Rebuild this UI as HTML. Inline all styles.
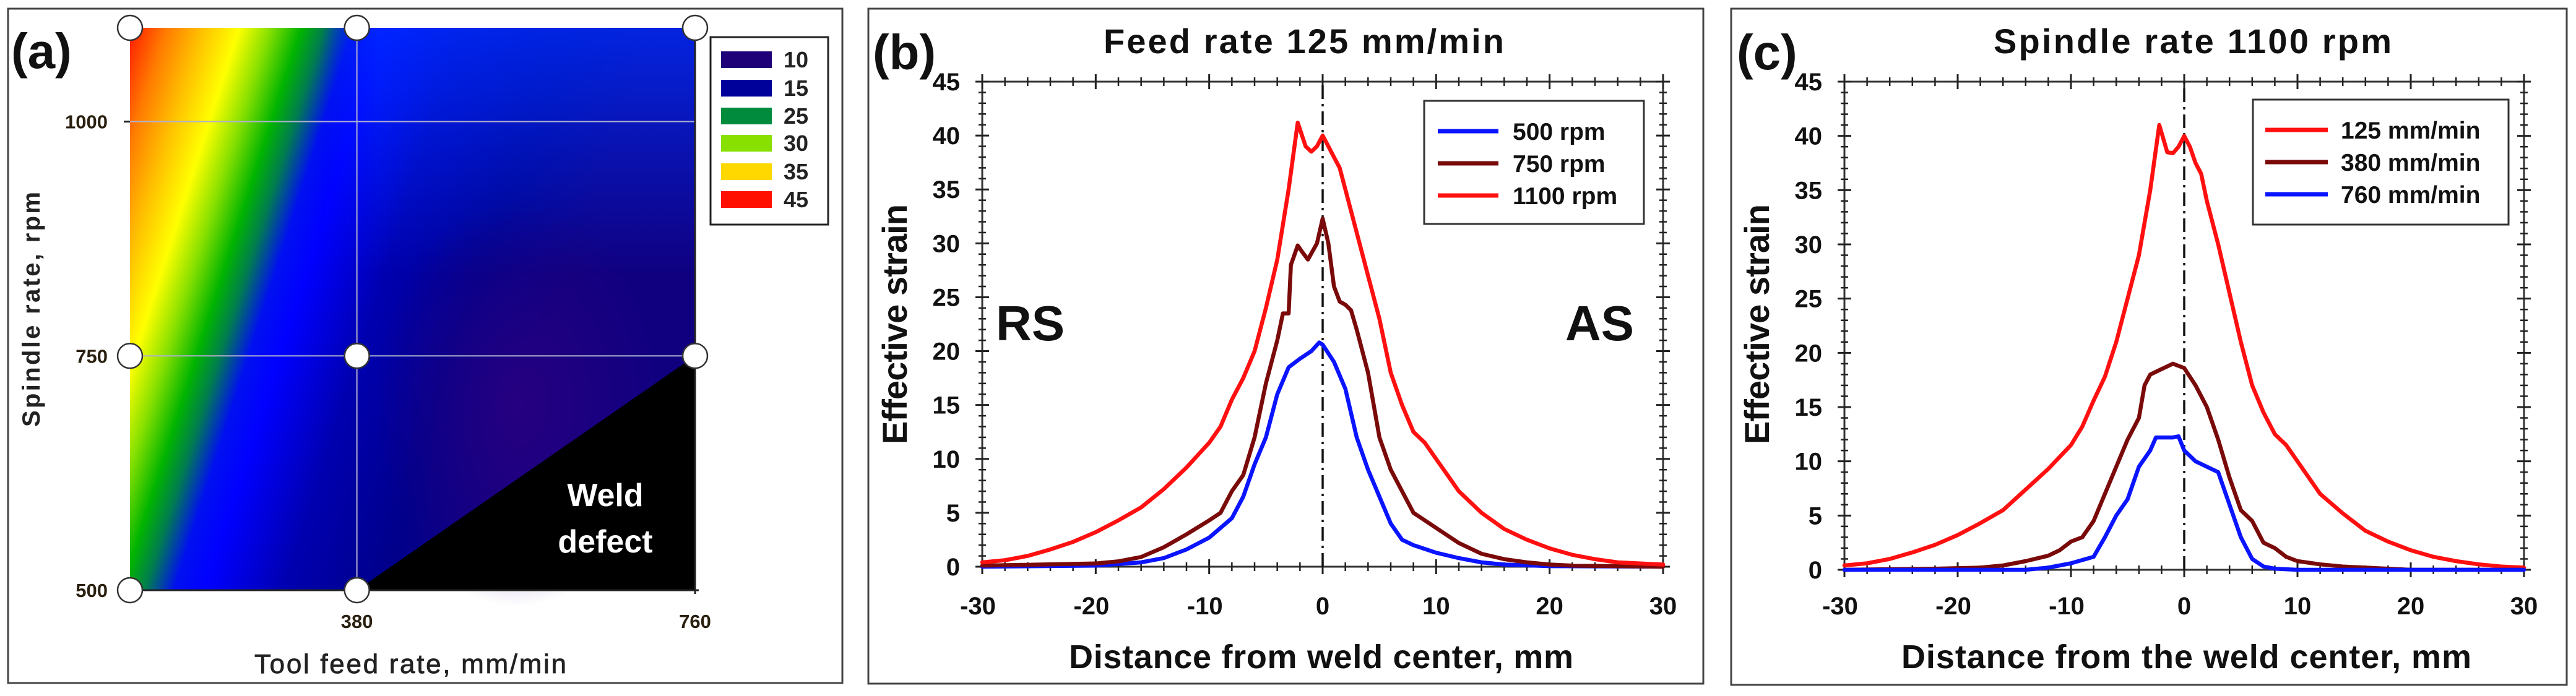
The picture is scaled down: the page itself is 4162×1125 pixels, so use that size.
<!DOCTYPE html>
<html><head><meta charset="utf-8"><style>
html,body{margin:0;padding:0;background:#fff;}
svg{display:block;font-family:"Liberation Sans",Arial,sans-serif;}
</style></head><body>
<svg id="fig" width="4162" height="1125" viewBox="0 0 4162 1125" xmlns="http://www.w3.org/2000/svg">
<defs>
<linearGradient id="cmap" gradientUnits="userSpaceOnUse" x1="210" y1="45" x2="972" y2="288">
<stop offset="0" stop-color="#ff1a00"/><stop offset="0.07" stop-color="#ff7a00"/><stop offset="0.14" stop-color="#ffc000"/>
<stop offset="0.21" stop-color="#ffff00"/><stop offset="0.27" stop-color="#88e000"/><stop offset="0.33" stop-color="#00b400"/>
<stop offset="0.375" stop-color="#007c50"/><stop offset="0.43" stop-color="#0010f0"/><stop offset="0.49" stop-color="#0000ff"/>
<stop offset="0.64" stop-color="#0000b0"/><stop offset="0.82" stop-color="#00008c"/><stop offset="1" stop-color="#100080"/>
</linearGradient>
<linearGradient id="topblue" x1="0" y1="0" x2="0" y2="1">
<stop offset="0" stop-color="#0030ff" stop-opacity="0.75"/><stop offset="1" stop-color="#0030ff" stop-opacity="0"/>
</linearGradient>
<linearGradient id="topfade" x1="0" y1="0" x2="1" y2="0">
<stop offset="0" stop-color="#fff" stop-opacity="0"/><stop offset="0.15" stop-color="#fff" stop-opacity="1"/><stop offset="1" stop-color="#fff" stop-opacity="1"/>
</linearGradient>
<mask id="tm"><rect x="520" y="45" width="603" height="400" fill="url(#topfade)"/></mask>
<radialGradient id="purp" cx="0.5" cy="0.5" r="0.5">
<stop offset="0" stop-color="#2a0080" stop-opacity="0.85"/><stop offset="1" stop-color="#2a0080" stop-opacity="0"/>
</radialGradient>
</defs>
<g id="pa"></g>
<g id="pb"></g>
<g id="pc"></g>
</svg>
<script>
// ---- data ----
const mapXTicks = [380, 760];
const mapYTicks = [500, 750, 1000];
const mapLegendLabels = ["10","15","25","30","35","45"];
const mapLegendColors = ["#1e0078","#00009a","#008c3c","#88e000","#ffd800","#ff1000"];
const designFeeds = [125, 380, 760, 125, 380, 760, 125, 380];
const designSpindles = [1100, 1100, 1100, 750, 750, 750, 500, 500];

const xTickLabels = [-30,-20,-10,0,10,20,30];
const yTickLabels = [0,5,10,15,20,25,30,35,40,45];

const b_x1100 = [-30,-28,-26,-24,-22,-20,-18,-16,-14,-12,-10,-9,-8,-7,-6,-5,-4,-3,-2.2,-1.5,-1,-0.5,0,0.5,1,1.5,2,3,4,5,6,7,8,9,10,11,12,14,16,18,20,22,24,26,28,30];
const b_y1100 = [0.4,0.6,1.0,1.6,2.3,3.2,4.3,5.5,7.2,9.2,11.5,13,15.5,17.5,20,24,28.5,35,41.2,39,38.5,39,40,39,38,37,35,31,27,23,18,15,12.5,11.5,10,8.5,7,5,3.5,2.5,1.7,1.1,0.7,0.4,0.3,0.2];
const b_x750 = [-30,-20,-18,-16,-14,-12,-10,-9,-8,-7,-6,-5,-4,-3.5,-3,-2.8,-2.2,-1.8,-1.3,-0.5,0,0.5,1,1.5,2,2.5,3,4,5,6,7,8,9,10,12,14,16,18,20,22,30];
const b_y750 = [0.1,0.3,0.5,0.9,1.8,3,4.3,5,7,8.5,12,17,21,23.5,23.5,28,29.8,29.2,28.5,30,32.3,30,26,24.6,24.3,23.8,22,18,12,9,7,5,4.3,3.6,2.2,1.2,0.7,0.4,0.2,0.1,0];
const b_x500 = [-30,-20,-16,-14,-12,-10,-8,-7,-6,-5,-4,-3,-2,-1,-0.3,0,1,2,3,4,5,6,7,8,10,12,14,16,20,30];
const b_y500 = [0,0.1,0.4,0.8,1.6,2.7,4.5,6.5,9.5,12,16,18.5,19.3,20,20.8,20.6,19,16.5,12,9,6.5,4,2.5,2,1.3,0.8,0.4,0.2,0.05,0];

const c_x125 = b_x1100.slice();
const c_y125 = [0.4,0.6,1.0,1.6,2.3,3.2,4.3,5.5,7.4,9.3,11.5,13.2,15.6,17.8,21,25,29,35,41,38.5,38.4,39,40,39,37.5,36.5,34,30,25.5,21,17,14.5,12.5,11.5,10,8.5,7,5.2,3.6,2.6,1.8,1.2,0.8,0.5,0.3,0.2];
const c_x380 = [-30,-22,-18,-16,-14,-12,-11,-10,-9,-8,-7,-6,-5,-4,-3.5,-3,-2,-1,0,1,2,3,4,5,6,7,8,9,10,12,14,16,18,20,30];
const c_y380 = [0,0.1,0.2,0.4,0.8,1.3,1.8,2.6,3,4.5,7,9.5,12,14,17,18,18.5,19,18.6,17,15,12,8.5,5.5,4.5,2.5,2,1.2,0.8,0.5,0.3,0.2,0.1,0,0];
const c_x760 = [-30,-14,-12,-10,-8,-7,-6,-5,-4,-3,-2.5,-1,-0.5,0,1,2,3,4,5,6,7,8,10,30];
const c_y760 = [0,0,0.2,0.6,1.2,3,5,6.5,9.5,11,12.2,12.2,12.3,11,10,9.5,9,6,3,1,0.3,0.1,0,0];

// ---- helpers ----
const NS = "http://www.w3.org/2000/svg";
function mk(tag, parent, attrs, text){
  const e = document.createElementNS(NS, tag);
  for (const k in attrs) e.setAttribute(k, attrs[k]);
  if (text !== undefined) e.textContent = text;
  parent.appendChild(e);
  return e;
}

// ---- panel a ----
(function(){
  const g = document.getElementById('pa');
  const X0=210, X1=1123, Y0=954, Y1=45;
  const fx = v => X0 + (v-125)/(760-125)*(X1-X0);
  const fy = v => Y0 - (v-500)/(1100-500)*(Y0-Y1);
  let e;
  e = mk('rect', g, {x:13,y:14,width:1348,height:1090,fill:'none',stroke:'#444','stroke-width':3});
   
  e = mk('rect', g, {x:X0,y:Y1,width:X1-X0,height:Y0-Y1,fill:'url(#cmap)'});
   
  e = mk('rect', g, {x:520,y:45,width:603,height:400,fill:'url(#topblue)',mask:'url(#tm)'});
   
  e = mk('ellipse', g, {cx:fx(560),cy:fy(700),rx:230,ry:330,fill:'url(#purp)'});
   
  e = mk('polygon', g, {points:`${fx(380)},${fy(500)} ${fx(760)},${fy(750)} ${fx(760)},${fy(500)}`,fill:'#000'});
   
  mapXTicks.slice(0,1).forEach(v=>{
    const l = mk('line', g, {x1:fx(v),x2:fx(v),y1:Y1,y2:Y0,stroke:'#b0b0d0','stroke-width':2});
     
  });
  mapYTicks.slice(1).forEach(v=>{
    const l = mk('line', g, {x1:X0,x2:X1,y1:fy(v),y2:fy(v),stroke:'#b0b0d0','stroke-width':2});
     
  });
  e = mk('line', g, {x1:X1,x2:X1,y1:Y1,y2:Y0+6,stroke:'#222','stroke-width':3});
   
  e = mk('line', g, {x1:X0,x2:X1+6,y1:Y0,y2:Y0,stroke:'#222','stroke-width':3});
   
  mapYTicks.forEach(v=>{
    const t = mk('line', g, {x1:X0-10,x2:X0,y1:fy(v),y2:fy(v),stroke:'#222','stroke-width':3});
     
    const l = mk('text', g, {x:174,y:fy(v)+11,'text-anchor':'end','font-size':31,'font-weight':'bold',fill:'#2a2010'}, String(v));
     
  });
  mapXTicks.forEach(v=>{
    const l = mk('text', g, {x:fx(v),y:1015,'text-anchor':'middle','font-size':31,'font-weight':'bold',fill:'#2a2010'}, String(v));
     
  });
  designFeeds.forEach((f,i)=>{
    const c = mk('circle', g, {cx:fx(f),cy:fy(designSpindles[i]),r:20,fill:'#fff',stroke:'#333','stroke-width':2.5});
     
  });
  e = mk('text', g, {x:978,y:818,'text-anchor':'middle','font-size':52,'font-weight':'bold',fill:'#fff'}, 'Weld');
   
  e = mk('text', g, {x:978,y:893,'text-anchor':'middle','font-size':52,'font-weight':'bold',fill:'#fff'}, 'defect');
   
  e = mk('rect', g, {x:1148,y:60,width:190,height:303,fill:'#fff',stroke:'#222','stroke-width':3});
   
  const rowsY = [96,142,187,231,277,322];
  mapLegendLabels.forEach((lab,i)=>{
    const s = mk('rect', g, {x:1165,y:rowsY[i]-13,width:82,height:27,fill:mapLegendColors[i]});
     
    const t = mk('text', g, {x:1266,y:rowsY[i]+13,'font-size':36,'font-weight':'bold',fill:'#222'}, lab);
     
  });
  e = mk('text', g, {x:18,y:110,'font-size':80,'font-weight':'bold',fill:'#111'}, '(a)');
   
  e = mk('text', g, {x:0,y:0,'text-anchor':'middle','font-size':40,'font-weight':'bold',fill:'#222',textLength:380,transform:'translate(64,500) rotate(-90)'}, 'Spindle rate, rpm');
   
  e = mk('text', g, {x:663,y:1088,'text-anchor':'middle','font-size':44,fill:'#222',textLength:504,'stroke':'#222','stroke-width':0.8}, 'Tool feed rate, mm/min');
   
})();

// ---- line panels ----
function linePanel(id, cfg){
  const g = document.getElementById(id);
  const {X0,X1,Y0,Y1} = cfg;
  const fx = v => X0 + (v+30)/60*(X1-X0);
  const fy = v => Y0 - v/45*(Y0-Y1);
  let e;
  e = mk('rect', g, cfg.frame);
   
  e = mk('rect', g, {x:X0,y:Y1,width:X1-X0,height:Y0-Y1,fill:'none',stroke:'#333','stroke-width':3});
   
  for (let v=-30; v<=30; v+=2){
    const major = v%10===0, L = major?12:7;
    [Y0,Y1].forEach(yy=>{
      const t = mk('line', g, {x1:fx(v),x2:fx(v),y1:yy-L,y2:yy+L,stroke:'#222','stroke-width':major?3:2.5});
       
    });
  }
  for (let v=0; v<=45; v+=1){
    const major = v%5===0, L = major?11:6;
    [X0,X1].forEach(xx=>{
      const t = mk('line', g, {x1:xx-L,x2:xx+L,y1:fy(v),y2:fy(v),stroke:'#222','stroke-width':major?3:2.5});
       
    });
  }
  xTickLabels.forEach(v=>{
    const t = mk('text', g, {x:fx(v)-(v<0?7:0),y:993,'text-anchor':'middle','font-size':40,'font-weight':'bold',fill:'#111'}, String(v));
     
  });
  yTickLabels.forEach(v=>{
    const t = mk('text', g, {x:cfg.ylabX,y:fy(v)+14,'text-anchor':'end','font-size':40,'font-weight':'bold',fill:'#111'}, String(v));
     
  });
  e = mk('line', g, {x1:fx(0),x2:fx(0),y1:Y0,y2:Y1,stroke:'#111','stroke-width':3.5,'stroke-dasharray':'22 8 4 8'});
   
  cfg.series.forEach(s=>{
    const pts = s.xs.map((x,i)=>fx(x).toFixed(1)+','+fy(s.ys[i]).toFixed(1)).join(' ');
    const p = mk('polyline', g, {points:pts,fill:'none',stroke:s.color,'stroke-width':6.5,'stroke-linejoin':'round','stroke-linecap':'round'});
    
    
  });
  const L = cfg.legend;
  e = mk('rect', g, {x:L.x,y:L.y,width:L.w,height:L.h,fill:'#fff',stroke:'#333','stroke-width':3});
   
  const ry=[L.y+49,L.y+101,L.y+153];
  cfg.series.forEach((s,i)=>{
    const ser = cfg.series[cfg.legendOrder[i]];
    const ln = mk('line', g, {x1:L.lx1,x2:L.lx2,y1:ry[i],y2:ry[i],stroke:ser.color,'stroke-width':7});
     
    const t = mk('text', g, {x:L.tx,y:ry[i]+14,'font-size':39,'font-weight':'bold',fill:'#111'}, ser.name);
     
  });
  e = mk('text', g, {x:cfg.tag[0],y:112,'font-size':80,'font-weight':'bold',fill:'#111'}, cfg.tag[1]);
   
  e = mk('text', g, {x:cfg.title[0],y:86,'font-size':56,'font-weight':'bold',fill:'#111',textLength:cfg.title[1]}, cfg.title[2]);
   
  e = mk('text', g, {x:cfg.xt[0],y:1080,'font-size':54,'font-weight':'bold',fill:'#111',textLength:cfg.xt[1]}, cfg.xt[2]);
   
  e = mk('text', g, {x:0,y:0,'text-anchor':'middle','font-size':56,'font-weight':'bold',fill:'#111',textLength:388,transform:`translate(${cfg.ytX},524) rotate(-90)`}, 'Effective strain');
   
  return {g, fx, fy};
}

const pb = linePanel('pb', {
  X0:1587,X1:2687,Y0:916,Y1:132,
  frame:{x:1403,y:14,width:1349,height:1091,fill:'none',stroke:'#444','stroke-width':3},
  ylabX:1551, ytX:1465,
  series:[{name:'500 rpm',color:'#0a14ff',xs:b_x500,ys:b_y500},{name:'750 rpm',color:'#7a0a0a',xs:b_x750,ys:b_y750},{name:'1100 rpm',color:'#ff1010',xs:b_x1100,ys:b_y1100}],
  legendOrder:[0,1,2],
  legend:{x:2301,y:163,w:355,h:199,lx1:2323,lx2:2421,tx:2444},
  tag:[1410,'(b)'], title:[1783,647,'Feed rate 125 mm/min'], xt:[1727,815,'Distance from weld center, mm']
});
let t1 = mk('text', pb.g, {x:1609,y:550,'font-size':80,'font-weight':'bold',fill:'#111'}, 'RS');
 
let t2 = mk('text', pb.g, {x:2640,y:550,'text-anchor':'end','font-size':80,'font-weight':'bold',fill:'#111'}, 'AS');
 

linePanel('pc', {
  X0:2980,X1:4078,Y0:921,Y1:132,
  frame:{x:2797,y:14,width:1350,height:1093,fill:'none',stroke:'#444','stroke-width':3},
  ylabX:2944, ytX:2858,
  series:[{name:'125 mm/min',color:'#ff1010',xs:c_x125,ys:c_y125},{name:'380 mm/min',color:'#7a0a0a',xs:c_x380,ys:c_y380},{name:'760 mm/min',color:'#0a14ff',xs:c_x760,ys:c_y760}],
  legendOrder:[0,1,2],
  legend:{x:3640,y:161,w:413,h:202,lx1:3660,lx2:3761,tx:3782},
  tag:[2806,'(c)'], title:[3221,643,'Spindle rate 1100 rpm'], xt:[3072,921,'Distance from the weld center, mm']
});
</script>
</body></html>
